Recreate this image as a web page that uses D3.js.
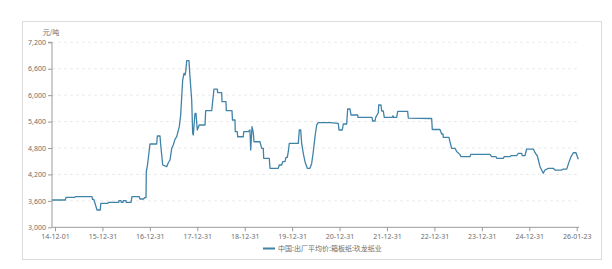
<!DOCTYPE html>
<html>
<head>
<meta charset="utf-8">
<script src="https://cdn.jsdelivr.net/npm/d3@7"></script>
<style>
  html, body { margin: 0; padding: 0; background: #fff; }
  svg { display: block; font-family: "Noto Sans", "Noto Sans CJK SC", sans-serif; }
</style>
</head>
<body>
<svg id="chart" width="612" height="269"></svg>
<script>
// Tick labels on the x axis (one per label slot, equally spaced)
const xTickLabels = ["14-12-01","15-12-31","16-12-31","17-12-31","18-12-31","19-12-31",
                     "20-12-31","21-12-31","22-12-31","23-12-31","24-12-31","26-01-23"];
// Y tick values
const yTicks = [3000, 3600, 4200, 4800, 5400, 6000, 6600, 7200];
// Series position along the axis, in label slots (0 = 14-12-01, 11 = 26-01-23)
const positions = [
 -0.063,0.217,0.232,0.415,0.432,0.780,0.791,0.816,0.843,0.886,0.955,0.966,1.117,1.128,1.343,1.349,
 1.392,1.398,1.434,1.440,1.497,1.503,1.602,1.623,1.777,1.792,1.870,1.887,1.919,1.925,1.950,2.003,
 2.144,2.157,2.214,2.229,2.271,2.355,2.389,2.425,2.461,2.494,2.530,2.566,2.621,2.650,2.692,2.720,
 2.741,2.756,2.777,2.825,2.846,2.882,2.903,2.916,2.952,2.973,3.000,3.042,3.163,3.177,3.304,3.352,
 3.422,3.430,3.515,3.521,3.605,3.612,3.732,3.742,3.795,3.801,3.844,3.852,3.970,3.979,4.076,4.111,
 4.126,4.154,4.181,4.196,4.322,4.358,4.392,4.400,4.518,4.533,4.708,4.729,4.780,4.801,4.849,4.870,
 4.898,4.919,4.940,5.130,5.151,5.180,5.201,5.235,5.271,5.320,5.376,5.412,5.446,5.482,5.518,5.551,
 5.798,5.973,5.988,6.057,6.079,6.150,6.171,6.220,6.241,6.382,6.388,6.684,6.698,6.747,6.762,6.817,
 6.825,6.873,6.888,6.922,6.943,7.112,7.126,7.141,7.204,7.226,7.436,7.449,7.928,7.942,7.955,8.117,
 8.153,8.181,8.187,8.307,8.328,8.364,8.434,8.469,8.539,8.560,8.750,8.765,9.172,9.207,9.298,9.319,
 9.452,9.473,9.593,9.614,9.734,9.768,9.840,9.853,9.909,9.945,10.085,10.120,10.156,10.169,10.226,10.261,
 10.295,10.331,10.401,10.506,10.542,10.683,10.717,10.789,10.837,10.879,10.928,10.985,11.033
];
// Price, 元/吨
const prices = [
 3620,3620,3680,3680,3695,3695,3636,3636,3545,3393,3393,3545,3545,3567,3567,3604,
 3604,3567,3567,3604,3604,3567,3567,3695,3695,3642,3642,3672,3672,4262,4414,4891,
 4891,5073,5073,4870,4414,4376,4466,4528,4793,4868,4997,5057,5284,5550,6344,6496,
 6457,6533,6782,6782,6419,5890,5134,5096,5588,5588,5209,5323,5323,5647,5647,6139,
 6139,6056,6056,5851,5851,5647,5647,5436,5436,5170,5170,5056,5056,5170,5170,5209,
 4754,5284,5150,4942,4942,4793,4793,4566,4566,4339,4339,4414,4414,4490,4490,4589,
 4589,4716,4906,4906,5209,5209,4906,4680,4490,4339,4339,4450,4716,5056,5323,5375,
 5375,5360,5209,5209,5345,5345,5686,5686,5550,5550,5496,5496,5413,5413,5496,5600,
 5776,5776,5640,5640,5496,5496,5530,5496,5496,5632,5632,5480,5470,5470,5220,5220,
 5118,5118,5042,5042,4942,4793,4793,4720,4650,4603,4603,4655,4655,4603,4603,4566,
 4566,4603,4603,4625,4625,4679,4679,4625,4625,4777,4777,4700,4640,4625,4376,4300,
 4226,4300,4339,4339,4300,4300,4320,4320,4480,4600,4693,4693,4544
];
const seriesName = "中国:出厂平均价:箱板纸:玖龙纸业";
const unitLabel = "元/吨";

const svg = d3.select("#chart");
const lineColor = "#4083a8";

// panel border
svg.append("rect").attr("x", 22.5).attr("y", 21.5).attr("width", 579).attr("height", 238)
  .attr("fill", "#fff").attr("stroke", "#dcdcdc").attr("stroke-width", 1);

const x = d3.scaleLinear().domain([0, 11]).range([55, 576.7]);
const y = d3.scaleLinear().domain([3000, 7200]).range([227.3, 42.3]);
const plotLeft = 52, plotRight = 579;

// grid lines
svg.append("g").selectAll("line").data(yTicks.filter(v => v !== 3000)).join("line")
  .attr("x1", plotLeft).attr("x2", plotRight)
  .attr("y1", d => y(d)).attr("y2", d => y(d))
  .attr("stroke", "#ebebeb").attr("stroke-dasharray", "3,3").attr("stroke-width", 1);

// y axis
const yAxis = d3.axisLeft(y).tickValues(yTicks).tickSize(4).tickPadding(2)
  .tickFormat(d3.format(","));
const gy = svg.append("g").attr("transform", `translate(${plotLeft},0)`).call(yAxis);
gy.select(".domain").attr("stroke", "#9a9a9a").attr("d", `M-4,${y(7200)}H0V${y(3000)}`);
gy.selectAll(".tick line").attr("stroke", "#9a9a9a");
gy.selectAll(".tick text").attr("fill", "#6e6e6e").style("font-size", "7px")
  .style("font-family", "'Noto Sans', sans-serif");

// x axis
const xAxis = d3.axisBottom(x).tickValues(d3.range(xTickLabels.length)).tickSize(4).tickPadding(3)
  .tickFormat(i => xTickLabels[i]);
const gx = svg.append("g").attr("transform", `translate(0,${y(3000)})`).call(xAxis);
gx.select(".domain").attr("stroke", "#9a9a9a").attr("d", `M${plotLeft},0H${plotRight}`);
gx.selectAll(".tick line").attr("stroke", "#9a9a9a");
gx.selectAll(".tick text").attr("fill", "#6e6e6e").style("font-size", "7px")
  .style("font-family", "'Noto Sans', sans-serif");

// unit label
svg.append("text").attr("x", 51).attr("y", 34.5).attr("text-anchor", "middle")
  .attr("fill", "#6e6e6e").style("font-size", "7px").style("font-family", "'Noto Sans CJK SC', sans-serif")
  .text(unitLabel);

// line
const data = positions.map((p, i) => [p, prices[i]]);
const line = d3.line().x(d => x(d[0])).y(d => y(d[1]));
svg.append("path").datum(data).attr("d", line)
  .attr("fill", "none").attr("stroke", lineColor).attr("stroke-width", 1.3)
  .attr("stroke-linejoin", "round");

// legend
svg.append("line").attr("x1", 263).attr("x2", 275).attr("y1", 248.5).attr("y2", 248.5)
  .attr("stroke", lineColor).attr("stroke-width", 2);
svg.append("text").attr("x", 278).attr("y", 251).attr("fill", "#6e6e6e")
  .style("font-size", "7px").style("font-family", "'Noto Sans CJK SC', sans-serif")
  .text(seriesName);
</script>
</body>
</html>
